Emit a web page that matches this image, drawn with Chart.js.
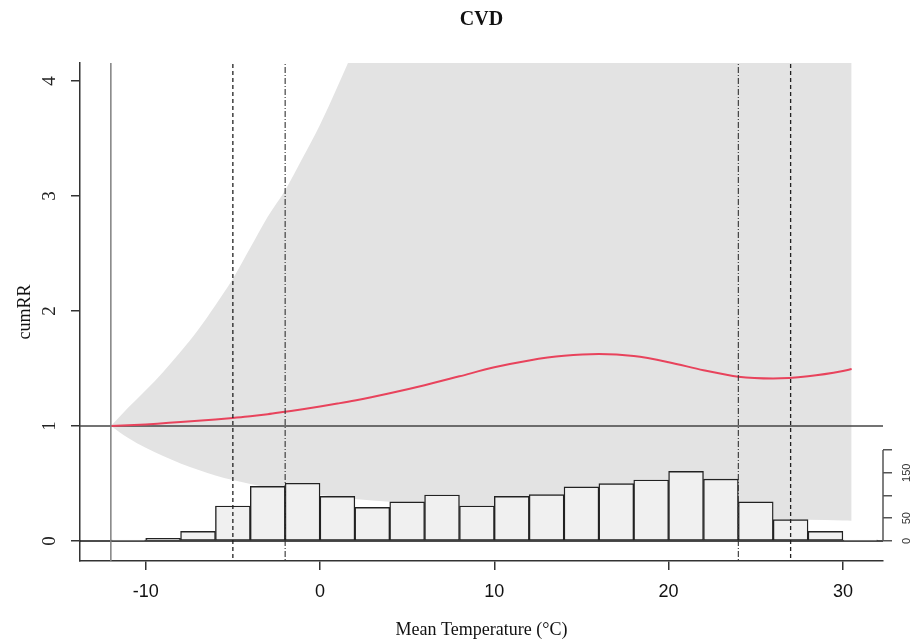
<!DOCTYPE html>
<html>
<head>
<meta charset="utf-8">
<script src="https://cdn.jsdelivr.net/npm/chart.js@4.4.1/dist/chart.umd.min.js"></script>
<style>
  html, body { margin: 0; padding: 0; background: #fff; }
  canvas { display: block; }
</style>
</head>
<body>
<canvas id="chart" width="917" height="643"></canvas>
<script>
const temps = [-12, -11, -10, -9, -8, -7, -6, -5, -4, -3, -2, -1, 0, 1, 2, 4, 6, 8, 10, 12, 14, 16, 18, 20, 22, 24, 26, 28, 30, 30.5];
const cumRR = [1.000, 1.006, 1.014, 1.024, 1.034, 1.045, 1.057, 1.070, 1.084, 1.102, 1.124, 1.146, 1.170, 1.195, 1.222, 1.285, 1.355, 1.432, 1.510, 1.570, 1.610, 1.625, 1.608, 1.555, 1.485, 1.428, 1.413, 1.432, 1.478, 1.495];
const rrHigh = [1.00, 1.16, 1.31, 1.47, 1.645, 1.835, 2.05, 2.28, 2.55, 2.82, 3.05, 3.33, 3.62, 3.95, 4.30, 5.1, 6.0, 7.0, 8.0, 8.8, 9.5, 10.0, 10.5, 11.0, 11.5, 12.0, 12.5, 13.0, 13.5, 13.6];
const rrLow = [1.00, 0.895, 0.81, 0.74, 0.675, 0.62, 0.57, 0.53, 0.495, 0.465, 0.44, 0.42, 0.40, 0.382, 0.366, 0.342, 0.322, 0.305, 0.29, 0.275, 0.262, 0.25, 0.238, 0.226, 0.214, 0.203, 0.193, 0.185, 0.179, 0.177];

// histogram of daily mean temperature (bins of 2 degrees, lower edges)
const binLeft = [-12, -10, -8, -6, -4, -2, 0, 2, 4, 6, 8, 10, 12, 14, 16, 18, 20, 22, 24, 26, 28, 30];
const binCount = [2, 6, 21, 77, 120, 127, 98, 74, 86, 101, 77, 98, 102, 119, 126, 134, 153, 136, 86, 47, 21, 2];
const binWidth = 2;

// reference lines
const minTemp = -12;
const dashedTemps = [-5, 27];
const dotDashTemps = [-2, 24];

const xTicks = [-10, 0, 10, 20, 30];
const yTicks = [0, 1, 2, 3, 4];
const countTicks = [0, 50, 100, 150, 200];
const countLabels = ['0', '50', '', '150', ''];

const vline = (t) => [{ x: t, y: -1 }, { x: t, y: 6 }];
const hline = (v) => [{ x: -20, y: v }, { x: 40, y: v }];

const datasets = [];
dashedTemps.forEach(t => datasets.push({
  type: 'line', data: vline(t), borderColor: '#222', borderWidth: 1.3,
  borderDash: [4, 3], pointRadius: 0, order: 1
}));
dotDashTemps.forEach(t => datasets.push({
  type: 'line', data: vline(t), borderColor: '#333', borderWidth: 1.1,
  borderDash: [6, 2, 1, 2], pointRadius: 0, order: 1
}));
datasets.push({
  type: 'line', data: vline(minTemp), borderColor: '#808080', borderWidth: 1.5,
  pointRadius: 0, order: 1
});
datasets.push({
  type: 'bar', yAxisID: 'y2',
  data: binLeft.map((l, i) => ({ x: l + binWidth / 2, y: binCount[i] })),
  backgroundColor: '#f0f0f0', borderColor: '#222', borderWidth: 1.4,
  borderSkipped: false, barPercentage: 1, categoryPercentage: 1, order: 2
});
datasets.push({
  type: 'line', data: hline(0), borderColor: '#111', borderWidth: 1.6,
  pointRadius: 0, order: 3
});
datasets.push({
  type: 'line', data: temps.map((t, i) => ({ x: t, y: cumRR[i] })),
  borderColor: '#e8435c', borderWidth: 2, pointRadius: 0,
  cubicInterpolationMode: 'monotone', order: 4
});
datasets.push({
  type: 'line', data: hline(1), borderColor: '#444', borderWidth: 1.3,
  pointRadius: 0, order: 5
});
datasets.push({
  type: 'line', data: temps.map((t, i) => ({ x: t, y: rrHigh[i] })),
  borderWidth: 0, pointRadius: 0, backgroundColor: '#e3e3e3',
  fill: '+1', cubicInterpolationMode: 'monotone', order: 10
});
datasets.push({
  type: 'line', data: temps.map((t, i) => ({ x: t, y: rrLow[i] })),
  borderWidth: 0, pointRadius: 0, cubicInterpolationMode: 'monotone', order: 11
});

// right-hand count axis is drawn only over 0..200, like R's axis()
const countAxisLine = {
  id: 'countAxisLine',
  afterDraw(chart) {
    const s = chart.scales.y2;
    const ctx = chart.ctx;
    ctx.save();
    ctx.strokeStyle = '#555';
    ctx.lineWidth = 1.5;
    ctx.beginPath();
    ctx.moveTo(s.left, s.getPixelForValue(countTicks[0]));
    ctx.lineTo(s.left, s.getPixelForValue(countTicks[countTicks.length - 1]));
    ctx.stroke();
    ctx.restore();
  }
};

const serif = "'Liberation Serif', 'Times New Roman', serif";
const sans = "'Liberation Sans', Arial, sans-serif";

new Chart(document.getElementById('chart'), {
  type: 'line',
  data: { datasets },
  options: {
    responsive: false,
    animation: false,
    devicePixelRatio: 1,
    layout: { padding: 0 },
    plugins: {
      legend: { display: false },
      tooltip: { enabled: false },
      title: {
        display: true, text: 'CVD', fullSize: false, color: '#111',
        font: { family: serif, size: 20, weight: 'bold' },
        padding: { top: 8, bottom: 31 }
      }
    },
    scales: {
      x: {
        type: 'linear', min: -13.77, max: 32.3, offset: false,
        afterBuildTicks: s => { s.ticks = xTicks.map(v => ({ value: v })); },
        afterFit: s => { s.height = 82; },
        grid: { display: true, drawOnChartArea: false, tickLength: 9, color: '#333', lineWidth: 1.5, offset: false },
        border: { display: true, color: '#333', width: 1.5 },
        ticks: { color: '#111', font: { family: sans, size: 18 }, padding: 11, maxRotation: 0, callback: v => String(v) },
        title: { display: true, text: 'Mean Temperature (°C)', color: '#111', font: { family: serif, size: 18 }, padding: { top: 0, bottom: 2 } }
      },
      y: {
        type: 'linear', position: 'left', min: -0.1739, max: 4.1565,
        afterBuildTicks: s => { s.ticks = yTicks.map(v => ({ value: v })); },
        afterFit: s => { s.width = 80; },
        grid: { display: true, drawOnChartArea: false, tickLength: 9, color: '#333', lineWidth: 1.5 },
        border: { display: true, color: '#333', width: 1.5 },
        ticks: { color: '#222', font: { family: serif, size: 19 }, padding: 16, minRotation: 90, maxRotation: 90, crossAlign: 'center', callback: v => String(v) },
        title: { display: true, text: 'cumRR', color: '#111', font: { family: serif, size: 18 }, padding: { top: 14, bottom: 0 } }
      },
      y2: {
        type: 'linear', position: 'right', min: -43.96, max: 1050.5,
        afterBuildTicks: s => { s.ticks = countTicks.map(v => ({ value: v })); },
        afterFit: s => { s.width = 34; },
        grid: { display: true, drawOnChartArea: false, tickLength: 9, color: '#555', lineWidth: 1.5 },
        border: { display: false },
        ticks: { color: '#333', font: { family: sans, size: 11 }, padding: 6, minRotation: 90, maxRotation: 90, crossAlign: 'center', callback: (v, i) => countLabels[i] }
      }
    }
  },
  plugins: [countAxisLine]
});
</script>
</body>
</html>
